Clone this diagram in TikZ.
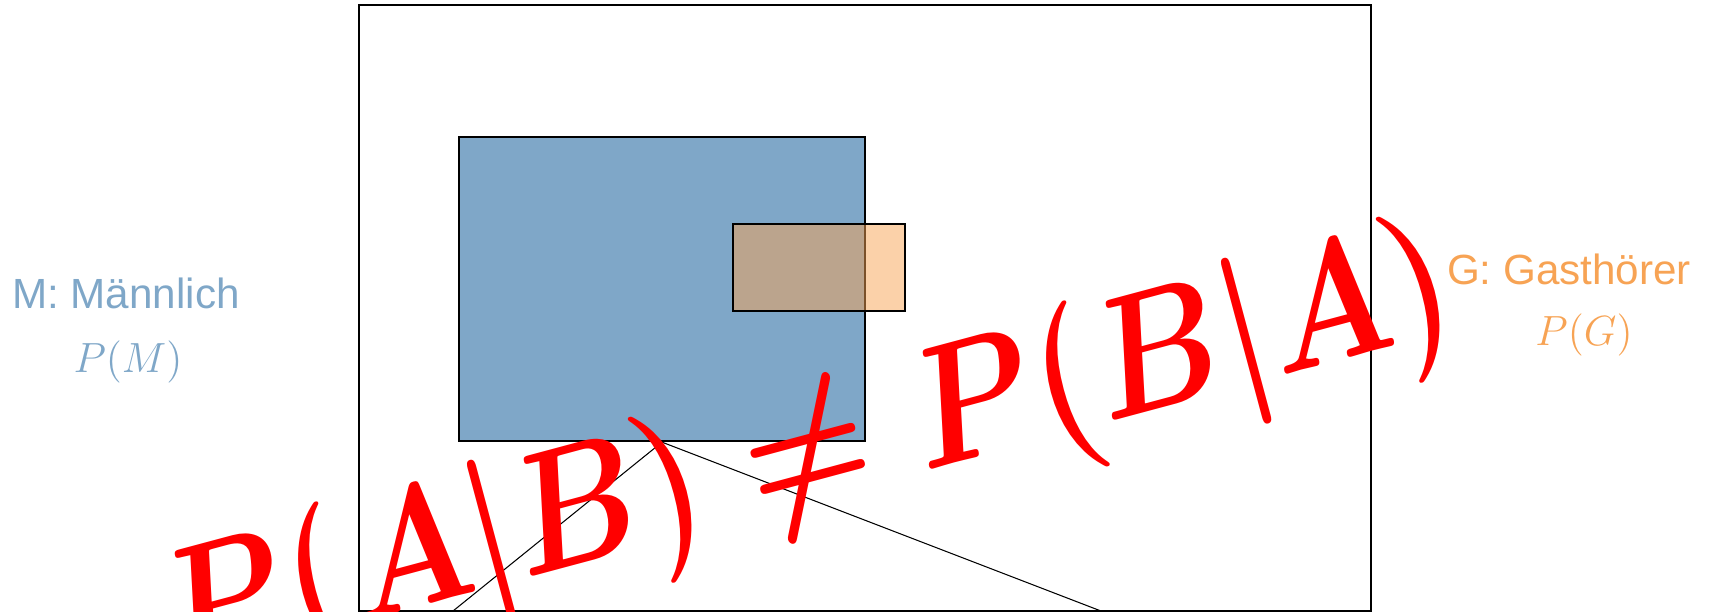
\documentclass[tikz,border=0pt]{standalone}
\usepackage{fontspec}
\newfontfamily\arialfont{Liberation Sans}
\usetikzlibrary{positioning}
\definecolor{Mc}{HTML}{7FA7C8}
\definecolor{Gc}{HTML}{F7A354}
\definecolor{Rc}{HTML}{FF0000}
\tikzset{
  outerbox/.style={draw=black, line width=0.6pt, inner sep=0pt, minimum width=10.12cm, minimum height=6.06cm},
  Mbox/.style={draw=black, fill=Mc, line width=0.6pt, inner sep=0pt, minimum width=4.06cm, minimum height=3.04cm},
  Gbox/.style={draw=black, fill=Gc, fill opacity=0.5, line width=0.6pt, inner sep=0pt, minimum width=1.72cm, minimum height=0.87cm},
  Mlab/.style={text=Mc, inner sep=0pt, anchor=base, font=\arialfont\fontsize{12}{14}\selectfont},
  Glab/.style={text=Gc, inner sep=0pt, anchor=base, font=\arialfont\fontsize{12}{14}\selectfont},
  Mform/.style={text=Mc, inner sep=0pt, anchor=base, font=\fontsize{12}{14}\selectfont},
  Gform/.style={text=Gc, inner sep=0pt, anchor=base, font=\fontsize{12}{14}\selectfont},
  bigform/.style={text=Rc, inner sep=0pt, anchor=base, rotate=15, scale=2.35, xscale=0.84,
    font=\fontsize{20}{20}\selectfont\boldmath},
  thinline/.style={black, line width=0.3pt},
}

\begin{document}
\begin{tikzpicture}[x=0.01cm, y=-0.01cm]
  \useasboundingbox (0,0) rectangle (1727,611);
  \clip (0,0) rectangle (1727,611);
  % sets
  \node[outerbox] (omega) at (865,308) {};
  \node[Mbox] (M) at (662,289) {};
  \node[Gbox] (G) at (819,267.5) {};
  \coordinate (l1) at (453,611);
  \coordinate (r1) at (1101,611);
  \draw[thinline] (l1) -- (M.south) -- (r1);
  % formula
  \node[bigform] (ineq) at (819,500) {$P(A|B)\neq P(B|A)$};
  % labels
  \node[Mlab] (Mname) at (126,308) {M: Männlich};
  \node[Mform] (Mprob) at (128,372) {$P(M)$};
  \node[Glab] (Gname) at (1569,284) {G: Gasthörer};
  \node[Gform] (Gprob) at (1584,345.5) {$P(G)$};
\end{tikzpicture}
\end{document}
